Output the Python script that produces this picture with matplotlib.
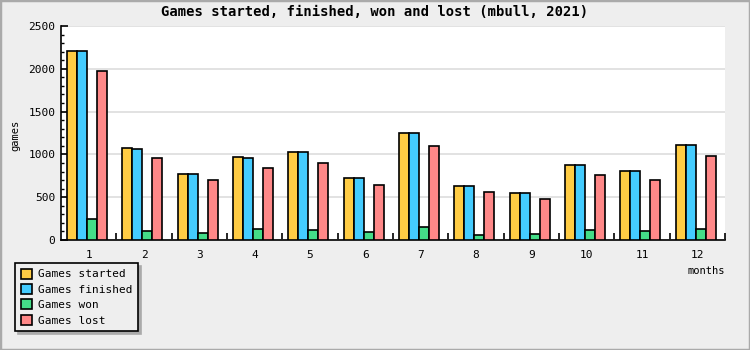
import numpy as np
import matplotlib
matplotlib.use("Agg")
import matplotlib.pyplot as plt
from matplotlib.patches import Rectangle
from matplotlib.ticker import MultipleLocator, FixedLocator

months = ["1", "2", "3", "4", "5", "6", "7", "8", "9", "10", "11", "12"]
games_started = [2210, 1070, 767, 966, 1024, 721, 1246, 627, 545, 872, 802, 1106]
games_finished = [2210, 1060, 767, 954, 1024, 721, 1246, 627, 545, 872, 802, 1106]
games_won = [242, 102, 78, 125, 113, 90, 148, 55, 67, 113, 102, 125]
games_lost = [1971, 954, 697, 837, 896, 639, 1094, 557, 475, 756, 697, 977]

series = [
    ("Games started", games_started, "#ffcc44"),
    ("Games finished", games_finished, "#44ccff"),
    ("Games won", games_won, "#44dd88"),
    ("Games lost", games_lost, "#ff8888"),
]

BG = "#eeeeee"
FONT = "DejaVu Sans Mono"

fig = plt.figure(figsize=(7.5, 3.5), dpi=100, facecolor=BG)
fig.patches.append(Rectangle((0, 0), 1, 1, transform=fig.transFigure,
                             fill=False, edgecolor="#aaaaaa", lw=2.5))

ax = fig.add_axes([61 / 750, 1 - 240 / 350, 664 / 750, 214 / 350])
ax.set_facecolor("white")

x = np.arange(1, len(months) + 1)
w = 0.18
for i, (name, vals, col) in enumerate(series):
    ax.bar(x + (i - 1.5) * w - 0.03, vals, width=w, color=col, edgecolor="black",
           linewidth=1.2, label=name, zorder=3)

ax.set_xlim(0.5, len(months) + 0.5)
ax.set_ylim(0, 2500)
ax.yaxis.set_major_locator(MultipleLocator(500))
ax.yaxis.set_minor_locator(MultipleLocator(100))
ax.grid(axis="y", color="#dddddd", lw=1.2, zorder=0)

ax.set_xticks(x)
ax.set_xticklabels(months, family=FONT, fontsize=8)
ax.xaxis.set_minor_locator(FixedLocator(np.arange(1.5, len(months) + 1, 1)))
ax.tick_params(axis="x", which="major", length=0, pad=7)
ax.tick_params(axis="x", which="minor", direction="in", length=5, width=1.2)
ax.tick_params(axis="y", which="major", direction="in", length=5, width=1.2, pad=4)
ax.tick_params(axis="y", which="minor", direction="in", length=2.5, width=1)
for lab in ax.get_yticklabels():
    lab.set_family(FONT)
    lab.set_fontsize(8)

for s in ["top", "right"]:
    ax.spines[s].set_visible(False)
for s in ["left", "bottom"]:
    ax.spines[s].set_linewidth(1.2)

fig.text(0.5, 1 - 12 / 350, "Games started, finished, won and lost (mbull, 2021)",
         ha="center", va="center", family=FONT, fontsize=10, fontweight="bold")
fig.text(15 / 750, 1 - 135 / 350, "games", rotation=90, ha="center",
         va="center", family=FONT, fontsize=7.5)
fig.text(725 / 750, 1 - 271 / 350, "months", ha="right", va="center",
         family=FONT, fontsize=7.5)

leg = ax.legend(loc="upper left", bbox_to_anchor=(15 / 750, 1 - 263 / 350),
                bbox_transform=fig.transFigure, prop={"family": FONT, "size": 8},
                frameon=True, fancybox=False, shadow={"color": "#aaaaaa", "alpha": 1},
                facecolor=BG, edgecolor="black", framealpha=1,
                handlelength=1.0, handleheight=1.0, handletextpad=0.6,
                labelspacing=0.42, borderpad=0.5, borderaxespad=0)
leg.get_frame().set_linewidth(1.2)

fig.savefig("out.png", dpi=100, facecolor=BG)
